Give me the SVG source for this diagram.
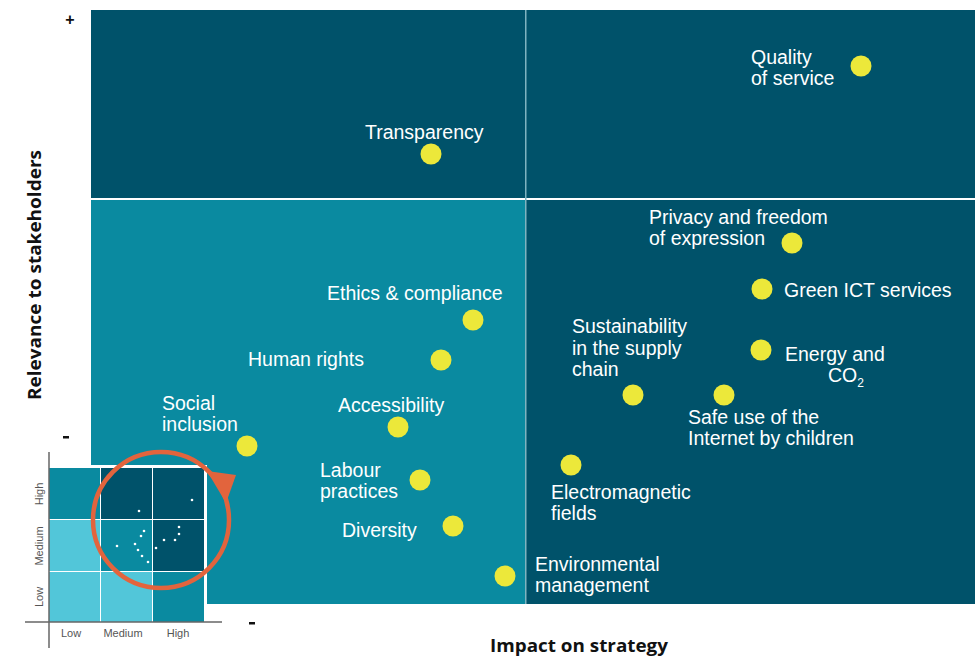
<svg xmlns="http://www.w3.org/2000/svg" width="975" height="659" viewBox="0 0 975 659">
<style>
.lbl{font-family:"Liberation Sans",Arial,sans-serif;font-size:19.5px;fill:#ffffff}
.dot{fill:#ece83a}
.ax{font-family:"Open Sans","Liberation Sans",sans-serif;font-size:18.5px;font-weight:bold;fill:#111}
.sm{font-family:"Liberation Sans",Arial,sans-serif;font-size:11px;fill:#555}
.dk{fill:#00526a}.md{fill:#0a8aa0}.lt{fill:#52c6d9}
</style>
<rect width="975" height="659" fill="#ffffff"/>
<g id="quadrants">
<rect class="dk" x="91" y="10" width="884" height="188"/>
<rect class="md" x="91" y="200" width="434" height="404"/>
<rect class="dk" x="525" y="200" width="450" height="404"/>
<rect x="525" y="10" width="1.5" height="594" fill="#7fb3c0"/>
</g>
<g id="marks" font-family="Liberation Sans,Arial,sans-serif" font-weight="bold" fill="#111">
<text x="70" y="25" font-size="16" text-anchor="middle">+</text>
<rect x="63" y="436" width="6" height="2.5"/>
<rect x="249" y="622" width="6" height="2.5"/>
</g>
<text class="ax" x="579" y="652" text-anchor="middle" textLength="178" lengthAdjust="spacingAndGlyphs">Impact on strategy</text>
<text class="ax" transform="translate(41,275) rotate(-90)" text-anchor="middle" textLength="250" lengthAdjust="spacingAndGlyphs">Relevance to stakeholders</text>
<g id="inset">
<rect x="0" y="465" width="207" height="139" fill="#ffffff"/>
<rect class="md" x="49" y="468" width="51" height="51"/>
<rect class="dk" x="101" y="468" width="51" height="51"/>
<rect class="dk" x="153" y="468" width="51" height="51"/>
<rect class="lt" x="49" y="520" width="51" height="51"/>
<rect class="md" x="101" y="520" width="51" height="51"/>
<rect class="dk" x="153" y="520" width="51" height="51"/>
<rect class="lt" x="49" y="572" width="51" height="50"/>
<rect class="lt" x="101" y="572" width="51" height="50"/>
<rect class="md" x="153" y="572" width="51" height="50"/>
<line x1="49" y1="452" x2="49" y2="648" stroke="#666" stroke-width="1.5"/>
<line x1="25" y1="622" x2="222" y2="622" stroke="#666" stroke-width="1.5"/>
<g fill="#ffffff">
<circle cx="192" cy="500" r="1.3"/><circle cx="139" cy="511" r="1.3"/><circle cx="144" cy="531" r="1.3"/>
<circle cx="141" cy="536" r="1.3"/><circle cx="117" cy="546" r="1.3"/><circle cx="135" cy="544" r="1.3"/>
<circle cx="138" cy="550" r="1.3"/><circle cx="142" cy="556" r="1.3"/><circle cx="148" cy="562" r="1.3"/>
<circle cx="156" cy="548" r="1.3"/><circle cx="164" cy="540" r="1.3"/><circle cx="175" cy="540" r="1.3"/>
<circle cx="179" cy="534" r="1.3"/><circle cx="179" cy="527" r="1.3"/>
</g>
<text class="sm" transform="translate(43,494) rotate(-90)" text-anchor="middle">High</text>
<text class="sm" transform="translate(43,546) rotate(-90)" text-anchor="middle">Medium</text>
<text class="sm" transform="translate(43,597) rotate(-90)" text-anchor="middle">Low</text>
<text class="sm" x="71" y="637" text-anchor="middle">Low</text>
<text class="sm" x="123" y="637" text-anchor="middle">Medium</text>
<text class="sm" x="178" y="637" text-anchor="middle">High</text>
<circle cx="161" cy="520" r="68" fill="none" stroke="#e2643d" stroke-width="4.5"/>
<polygon points="207,471 236,475 226,503" fill="#e2643d"/>
</g>
<g id="n-quality"><circle class="dot" cx="861" cy="66" r="10.5"/><text class="lbl" x="751" y="64">Quality</text><text class="lbl" x="751" y="85">of service</text></g>
<g id="n-transparency"><circle class="dot" cx="431" cy="154" r="10.5"/><text class="lbl" x="365" y="139">Transparency</text></g>
<g id="n-privacy"><circle class="dot" cx="792" cy="243" r="10.5"/><text class="lbl" x="649" y="224">Privacy and freedom</text><text class="lbl" x="649" y="245">of expression</text></g>
<g id="n-green"><circle class="dot" cx="762" cy="289" r="10.5"/><text class="lbl" x="784" y="297">Green ICT services</text></g>
<g id="n-ethics"><circle class="dot" cx="473" cy="320" r="10.5"/><text class="lbl" x="327" y="300">Ethics &amp; compliance</text></g>
<g id="n-human"><circle class="dot" cx="441" cy="360" r="10.5"/><text class="lbl" x="248" y="366">Human rights</text></g>
<g id="n-energy"><circle class="dot" cx="761" cy="350" r="10.5"/><text class="lbl" x="785" y="361">Energy and</text><text class="lbl" x="828" y="382">CO<tspan font-size="12" dy="5">2</tspan></text></g>
<g id="n-sustain"><circle class="dot" cx="633" cy="395" r="10.5"/><text class="lbl" x="572" y="333">Sustainability</text><text class="lbl" x="572" y="355">in the supply</text><text class="lbl" x="572" y="376">chain</text></g>
<g id="n-safe"><circle class="dot" cx="724" cy="395" r="10.5"/><text class="lbl" x="688" y="424">Safe use of the</text><text class="lbl" x="688" y="445">Internet by children</text></g>
<g id="n-access"><circle class="dot" cx="398" cy="427" r="10.5"/><text class="lbl" x="338" y="412">Accessibility</text></g>
<g id="n-social"><circle class="dot" cx="247" cy="446" r="10.5"/><text class="lbl" x="162" y="410">Social</text><text class="lbl" x="162" y="431">inclusion</text></g>
<g id="n-emf"><circle class="dot" cx="571" cy="465" r="10.5"/><text class="lbl" x="551" y="499">Electromagnetic</text><text class="lbl" x="551" y="520">fields</text></g>
<g id="n-labour"><circle class="dot" cx="420" cy="480" r="10.5"/><text class="lbl" x="320" y="477">Labour</text><text class="lbl" x="320" y="498">practices</text></g>
<g id="n-diversity"><circle class="dot" cx="453" cy="526" r="10.5"/><text class="lbl" x="342" y="537">Diversity</text></g>
<g id="n-env"><circle class="dot" cx="505" cy="576" r="10.5"/><text class="lbl" x="535" y="571">Environmental</text><text class="lbl" x="535" y="592">management</text></g>
</svg>
